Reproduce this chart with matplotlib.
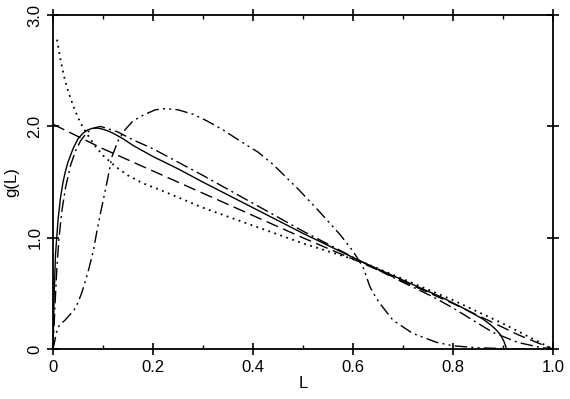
import matplotlib.pyplot as plt
from matplotlib.ticker import MultipleLocator

plt.rcParams['font.family'] = ['Liberation Sans', 'DejaVu Sans']

# Solid curve.
L_solid = [0.0, 0.002, 0.005, 0.01, 0.015, 0.02, 0.025, 0.03, 0.04, 0.05, 0.06,
           0.07, 0.08, 0.09, 0.1, 0.11, 0.12, 0.14, 0.16, 0.18, 0.2, 0.25, 0.3,
           0.4, 0.5, 0.62, 0.7, 0.78, 0.82, 0.84, 0.86, 0.875, 0.885, 0.895,
           0.902, 0.906, 0.907]
g_solid = [0.0, 0.45, 0.85, 1.16, 1.36, 1.5, 1.6, 1.68, 1.8, 1.89, 1.94,
           1.97, 1.985, 1.985, 1.975, 1.96, 1.94, 1.89, 1.83, 1.78, 1.73, 1.62, 1.5,
           1.27, 1.04, 0.78, 0.62, 0.46, 0.37, 0.32, 0.27, 0.22, 0.18, 0.13,
           0.07, 0.02, 0.0]

# Long dashed curve.
L_dash = [0.0, 0.1, 0.2, 0.3, 0.4, 0.5, 0.62, 0.7, 0.8, 0.87, 0.93, 1.0]
g_dash = [2.02, 1.8, 1.6, 1.4, 1.2, 1.0, 0.77, 0.61, 0.41, 0.26, 0.13, 0.0]

# Dotted curve.
L_dot = [0.008, 0.015, 0.022, 0.03, 0.04, 0.05, 0.06, 0.07, 0.085, 0.1, 0.125,
         0.15, 0.18, 0.22, 0.3, 0.4, 0.5, 0.62, 0.7, 0.8, 0.9, 1.0]
g_dot = [2.78, 2.6, 2.45, 2.32, 2.19, 2.08, 1.99, 1.92, 1.82, 1.74, 1.64,
         1.56, 1.49, 1.42, 1.27, 1.11, 0.95, 0.78, 0.63, 0.44, 0.23, 0.0]

# Dash-dot curve.
L_dd = [0.0, 0.004, 0.008, 0.012, 0.018, 0.025, 0.035, 0.045, 0.055, 0.065,
        0.075, 0.085, 0.095, 0.11, 0.13, 0.16, 0.2, 0.25, 0.3, 0.4, 0.5, 0.62,
        0.7, 0.76, 0.8, 0.84, 0.88, 0.93, 0.97, 1.0]
g_dd = [0.0, 0.4, 0.75, 1.0, 1.25, 1.45, 1.65, 1.78, 1.87, 1.93,
        1.97, 1.99, 2.0, 1.98, 1.95, 1.88, 1.8, 1.68, 1.56, 1.31, 1.06, 0.78,
        0.6, 0.47, 0.37, 0.26, 0.15, 0.06, 0.02, 0.0]

# Dash-dot-dot curve.
L_ddd = [0.0, 0.009, 0.014, 0.024, 0.034, 0.042, 0.05, 0.057, 0.064, 0.071,
         0.081, 0.087, 0.094, 0.101, 0.108, 0.118, 0.13, 0.144, 0.16, 0.184,
         0.205, 0.225, 0.25, 0.28, 0.308, 0.34, 0.374, 0.41, 0.44, 0.49, 0.534,
         0.574, 0.6, 0.62, 0.634, 0.645, 0.654, 0.68, 0.72, 0.768, 0.8, 0.85,
         0.9, 0.95]
g_ddd = [0.0, 0.19, 0.22, 0.26, 0.31, 0.35, 0.42, 0.5, 0.6, 0.71,
         0.89, 1.04, 1.2, 1.35, 1.5, 1.73, 1.87, 1.97, 2.05, 2.11,
         2.15, 2.16, 2.15, 2.11, 2.05, 1.97, 1.87, 1.77, 1.66, 1.44, 1.23,
         1.03, 0.88, 0.74, 0.56, 0.47, 0.41, 0.26, 0.14, 0.06, 0.03, 0.012,
         0.005, 0.0]

fig = plt.figure(figsize=(5.7, 3.99), dpi=100)
ax = fig.add_axes([0.093, 0.125, 0.877, 0.837])

lw = 1.0
ax.plot(L_solid, g_solid, c='black', lw=lw)
ax.plot(L_dash, g_dash, c='black', lw=lw, ls=(0, (9, 4)))
ax.plot(L_dot, g_dot, c='black', lw=1.3, ls=(0, (1, 2.5)))
ax.plot(L_dd, g_dd, c='black', lw=lw, ls=(0, (9, 3, 1.5, 3)))
ax.plot(L_ddd, g_ddd, c='black', lw=lw, ls=(0, (9, 3, 1.5, 3, 1.5, 3)))

ax.set_xlim(0, 1.0)
ax.set_ylim(0, 3.0)
ax.set_xticks([0, 0.2, 0.4, 0.6, 0.8, 1.0])
ax.set_xticklabels(['0', '0.2', '0.4', '0.6', '0.8', '1.0'])
ax.xaxis.set_minor_locator(MultipleLocator(0.1))
ax.set_yticks([0, 1.0, 2.0, 3.0])
ax.set_yticklabels(['0', '1.0', '2.0', '3.0'], rotation=90, va='center')

ax.tick_params(which='major', direction='inout', length=9, width=1.2,
               top=True, right=True, labelsize=12, pad=3)
ax.tick_params(which='minor', direction='in', length=3, width=1, top=True)
for side in ['left', 'right', 'top', 'bottom']:
    ax.spines[side].set_linewidth(1.3)

ax.set_xlabel('L', fontsize=12, labelpad=1)
ax.set_ylabel('g(L)', fontsize=12, labelpad=6)

plt.savefig('out.png', dpi=100)
plt.close()
